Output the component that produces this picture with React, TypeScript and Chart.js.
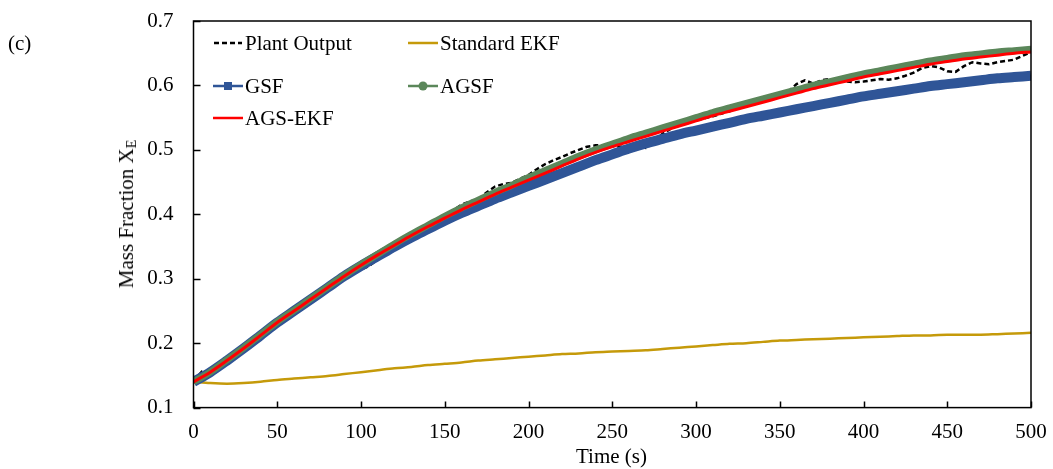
import React, { useEffect, useRef } from "react";
import { Chart, registerables } from "chart.js";

Chart.register(...registerables);

// ---- data ----
const timeCoarse = [
  0, 10, 20, 30, 40, 50, 60, 70, 80, 90, 100, 110, 120, 130, 140, 150, 160, 170, 180, 190,
  200, 210, 220, 230, 240, 250, 260, 270, 280, 290, 300, 310, 320, 330, 340, 350, 360, 370, 380, 390,
  400, 410, 420, 430, 440, 450, 460, 470, 480, 490, 500,
];

const timeFine = [
  0, 5, 10, 15, 20, 25, 30, 35, 40, 45, 50, 55, 60, 65, 70, 75, 80, 85, 90, 95,
  100, 105, 110, 115, 120, 125, 130, 135, 140, 145, 150, 155, 160, 165, 170, 175, 180, 185, 190, 195,
  200, 205, 210, 215, 220, 225, 230, 235, 240, 245, 250, 255, 260, 265, 270, 275, 280, 285, 290, 295,
  300, 305, 310, 315, 320, 325, 330, 335, 340, 345, 350, 355, 360, 365, 370, 375, 380, 385, 390, 395,
  400, 405, 410, 415, 420, 425, 430, 435, 440, 445, 450, 455, 460, 465, 470, 475, 480, 485, 490, 495, 500,
];

const plantOutput = [
  0.141, 0.156, 0.153, 0.163, 0.172, 0.183, 0.191, 0.203, 0.211, 0.223, 0.231, 0.242, 0.249, 0.26, 0.267, 0.278, 0.285, 0.296, 0.301, 0.308,
  0.314, 0.32, 0.33, 0.343, 0.351, 0.362, 0.368, 0.376, 0.383, 0.39, 0.397, 0.406, 0.415, 0.42, 0.423, 0.434, 0.443, 0.447, 0.449, 0.455,
  0.461, 0.47, 0.478, 0.484, 0.489, 0.495, 0.5, 0.505, 0.507, 0.507, 0.506, 0.505, 0.504, 0.506, 0.503, 0.512, 0.525, 0.533, 0.538, 0.543,
  0.546, 0.549, 0.552, 0.556, 0.56, 0.565, 0.568, 0.572, 0.575, 0.579, 0.583, 0.59, 0.602, 0.608, 0.603, 0.608, 0.61, 0.608, 0.606, 0.605,
  0.606, 0.608, 0.61, 0.609, 0.611, 0.615, 0.62, 0.627, 0.63, 0.628, 0.622, 0.621, 0.63, 0.636, 0.634, 0.633, 0.636, 0.638, 0.64, 0.646, 0.652,
];

const standardEKF = [
  0.14, 0.138, 0.137, 0.138, 0.14, 0.143, 0.145, 0.147, 0.149, 0.152, 0.155, 0.158, 0.161, 0.163, 0.166, 0.168, 0.17, 0.173, 0.175, 0.177,
  0.179, 0.181, 0.183, 0.184, 0.186, 0.187, 0.188, 0.189, 0.191, 0.193, 0.195, 0.197, 0.199, 0.2, 0.202, 0.204, 0.205, 0.206, 0.207, 0.208,
  0.209, 0.21, 0.211, 0.212, 0.212, 0.213, 0.213, 0.213, 0.214, 0.215, 0.216,
];

const gsf = [
  0.14, 0.155, 0.173, 0.192, 0.212, 0.232, 0.25, 0.268, 0.286, 0.304, 0.32, 0.335, 0.35, 0.364, 0.377, 0.39, 0.402, 0.413, 0.424, 0.434,
  0.444, 0.454, 0.464, 0.474, 0.484, 0.493, 0.502, 0.51, 0.517, 0.524, 0.53, 0.536, 0.542, 0.548, 0.553, 0.558, 0.563, 0.568, 0.573, 0.578,
  0.583, 0.587, 0.591, 0.595, 0.599, 0.602, 0.605, 0.608, 0.611, 0.613, 0.615,
];

const agsf = [
  0.14, 0.155, 0.174, 0.193, 0.213, 0.233, 0.251, 0.269, 0.287, 0.305, 0.322, 0.338, 0.354, 0.369, 0.383, 0.397, 0.41, 0.422, 0.434, 0.445,
  0.457, 0.468, 0.479, 0.49, 0.5, 0.509, 0.518, 0.526, 0.534, 0.542, 0.55, 0.558, 0.565, 0.572, 0.579, 0.586, 0.593, 0.6, 0.606, 0.612,
  0.618, 0.623, 0.628, 0.633, 0.638, 0.642, 0.646, 0.649, 0.652, 0.654, 0.656,
];

const agsEKF = [
  0.14, 0.155, 0.173, 0.192, 0.212, 0.232, 0.25, 0.268, 0.286, 0.304, 0.321, 0.337, 0.352, 0.367, 0.381, 0.394, 0.407, 0.419, 0.431, 0.442,
  0.453, 0.464, 0.475, 0.486, 0.496, 0.505, 0.513, 0.521, 0.529, 0.537, 0.545, 0.553, 0.56, 0.567, 0.574, 0.581, 0.588, 0.595, 0.601, 0.607,
  0.613, 0.618, 0.623, 0.628, 0.633, 0.637, 0.641, 0.644, 0.647, 0.65, 0.652,
];

const xTicks = [0, 50, 100, 150, 200, 250, 300, 350, 400, 450, 500];
const yTicks = [0.1, 0.2, 0.3, 0.4, 0.5, 0.6, 0.7];

const FONT = "'Liberation Serif', 'Times New Roman', serif";
const FS = 21;
const C_BLUE = "#2f5597";
const C_GREEN = "#5b875a";
const C_GOLD = "#c59a0a";
const C_RED = "#ff0000";

const pair = (xs: number[], ys: number[]) => xs.map((x, i) => ({ x, y: ys[i] }));

const framePlugin = {
  id: "frame",
  afterDraw(chart: any) {
    const { ctx, chartArea: a, scales } = chart;
    ctx.save();
    ctx.strokeStyle = "#000";
    ctx.lineWidth = 1.5;
    ctx.strokeRect(a.left, a.top, a.right - a.left, a.bottom - a.top);
    ctx.beginPath();
    yTicks.forEach((v) => {
      const y = Math.round(scales.y.getPixelForValue(v)) + 0.5;
      ctx.moveTo(a.left, y);
      ctx.lineTo(a.left + 7, y);
    });
    xTicks.forEach((v) => {
      const x = Math.round(scales.x.getPixelForValue(v)) + 0.5;
      ctx.moveTo(x, a.bottom);
      ctx.lineTo(x, a.bottom - 6);
    });
    ctx.stroke();
    ctx.restore();
  },
};

export default function App() {
  const ref = useRef<HTMLCanvasElement>(null);

  useEffect(() => {
    document.body.style.margin = "0";
    const chart = new Chart(ref.current as HTMLCanvasElement, {
      type: "line",
      data: {
        datasets: [
          {
            label: "Plant Output",
            data: pair(timeFine, plantOutput),
            borderColor: "#000",
            borderWidth: 2.5,
            borderDash: [5, 3],
            pointRadius: 0,
            tension: 0,
            order: 5,
          },
          {
            label: "Standard EKF",
            data: pair(timeCoarse, standardEKF),
            borderColor: C_GOLD,
            borderWidth: 2.5,
            pointRadius: 0,
            tension: 0.3,
            order: 4,
          },
          {
            label: "GSF",
            data: pair(timeCoarse, gsf),
            borderColor: C_BLUE,
            borderWidth: 10,
            pointRadius: 0,
            tension: 0.3,
            order: 3,
          },
          {
            label: "AGSF",
            data: pair(timeCoarse, agsf),
            borderColor: C_GREEN,
            borderWidth: 7,
            pointRadius: 0,
            tension: 0.3,
            order: 2,
          },
          {
            label: "AGS-EKF",
            data: pair(timeCoarse, agsEKF),
            borderColor: C_RED,
            borderWidth: 3,
            pointRadius: 0,
            tension: 0.3,
            order: 1,
          },
        ],
      },
      options: {
        responsive: false,
        animation: false,
        layout: { padding: { left: 0, top: 21, right: 22, bottom: 0 } },
        plugins: { legend: { display: false }, tooltip: { enabled: false } },
        scales: {
          x: {
            type: "linear",
            min: 0,
            max: 500,
            afterBuildTicks: (s: any) => {
              s.ticks = xTicks.map((v) => ({ value: v }));
            },
            afterFit: (s: any) => {
              s.height = 61.4;
              s.paddingLeft = 0;
              s.paddingRight = 0;
            },
            grid: { display: false, drawTicks: false },
            border: { display: false },
            ticks: {
              color: "#000",
              padding: 12,
              maxRotation: 0,
              font: { family: FONT, size: FS },
            },
          },
          y: {
            type: "linear",
            min: 0.1,
            max: 0.7,
            afterBuildTicks: (s: any) => {
              s.ticks = yTicks.map((v) => ({ value: v }));
            },
            afterFit: (s: any) => {
              s.width = 193.5;
              s.paddingTop = 0;
              s.paddingBottom = 0;
            },
            grid: { display: false, drawTicks: false },
            border: { display: false },
            ticks: {
              color: "#000",
              padding: 20,
              callback: (v: any) => Number(v).toFixed(1),
              font: { family: FONT, size: FS },
            },
          },
        },
      },
      plugins: [framePlugin],
    });
    return () => chart.destroy();
  }, []);

  const text: React.CSSProperties = {
    position: "absolute",
    fontFamily: FONT,
    fontSize: FS,
    color: "#000",
    whiteSpace: "nowrap",
    lineHeight: "21px",
  };

  const legendItems = [
    { label: "Plant Output", x: 213, y: 43, kind: "dash", color: "#000" },
    { label: "Standard EKF", x: 408, y: 43, kind: "line", color: C_GOLD },
    { label: "GSF", x: 213, y: 86, kind: "square", color: C_BLUE },
    { label: "AGSF", x: 408, y: 86, kind: "circle", color: C_GREEN },
    { label: "AGS-EKF", x: 213, y: 118, kind: "line", color: C_RED },
  ];

  return (
    <div style={{ position: "absolute", left: 0, top: 0, width: 1053, height: 469, background: "#fff", overflow: "hidden" }}>
      <canvas ref={ref} width={1053} height={469} style={{ position: "absolute", left: 0, top: 0 }} />
      <div style={{ ...text, left: 8, top: 33 }}>(c)</div>
      <div style={{ ...text, left: 576, top: 446 }}>Time (s)</div>
      <div
        style={{
          ...text,
          left: 129,
          top: 214,
          transform: "translate(-50%, -50%) rotate(-90deg)",
        }}
      >
        Mass Fraction X<sub style={{ fontSize: 14, verticalAlign: "-3px" }}>E</sub>
      </div>
      {legendItems.map((it) => (
        <div key={it.label} style={{ position: "absolute", left: it.x, top: it.y - 10, height: 21, width: 200 }}>
          <svg width={30} height={20} style={{ position: "absolute", left: 0, top: 0 }}>
            {it.kind === "dash" ? (
              <line x1={1} y1={10} x2={29} y2={10} stroke={it.color} strokeWidth={2.5} strokeDasharray="5 3" />
            ) : (
              <line x1={0} y1={10} x2={30} y2={10} stroke={it.color} strokeWidth={2.5} />
            )}
            {it.kind === "square" && <rect x={11} y={6} width={8} height={8} fill={it.color} />}
            {it.kind === "circle" && <circle cx={15} cy={10} r={4.5} fill={it.color} />}
          </svg>
          <span style={{ ...text, left: 32, top: 0 }}>{it.label}</span>
        </div>
      ))}
    </div>
  );
}
